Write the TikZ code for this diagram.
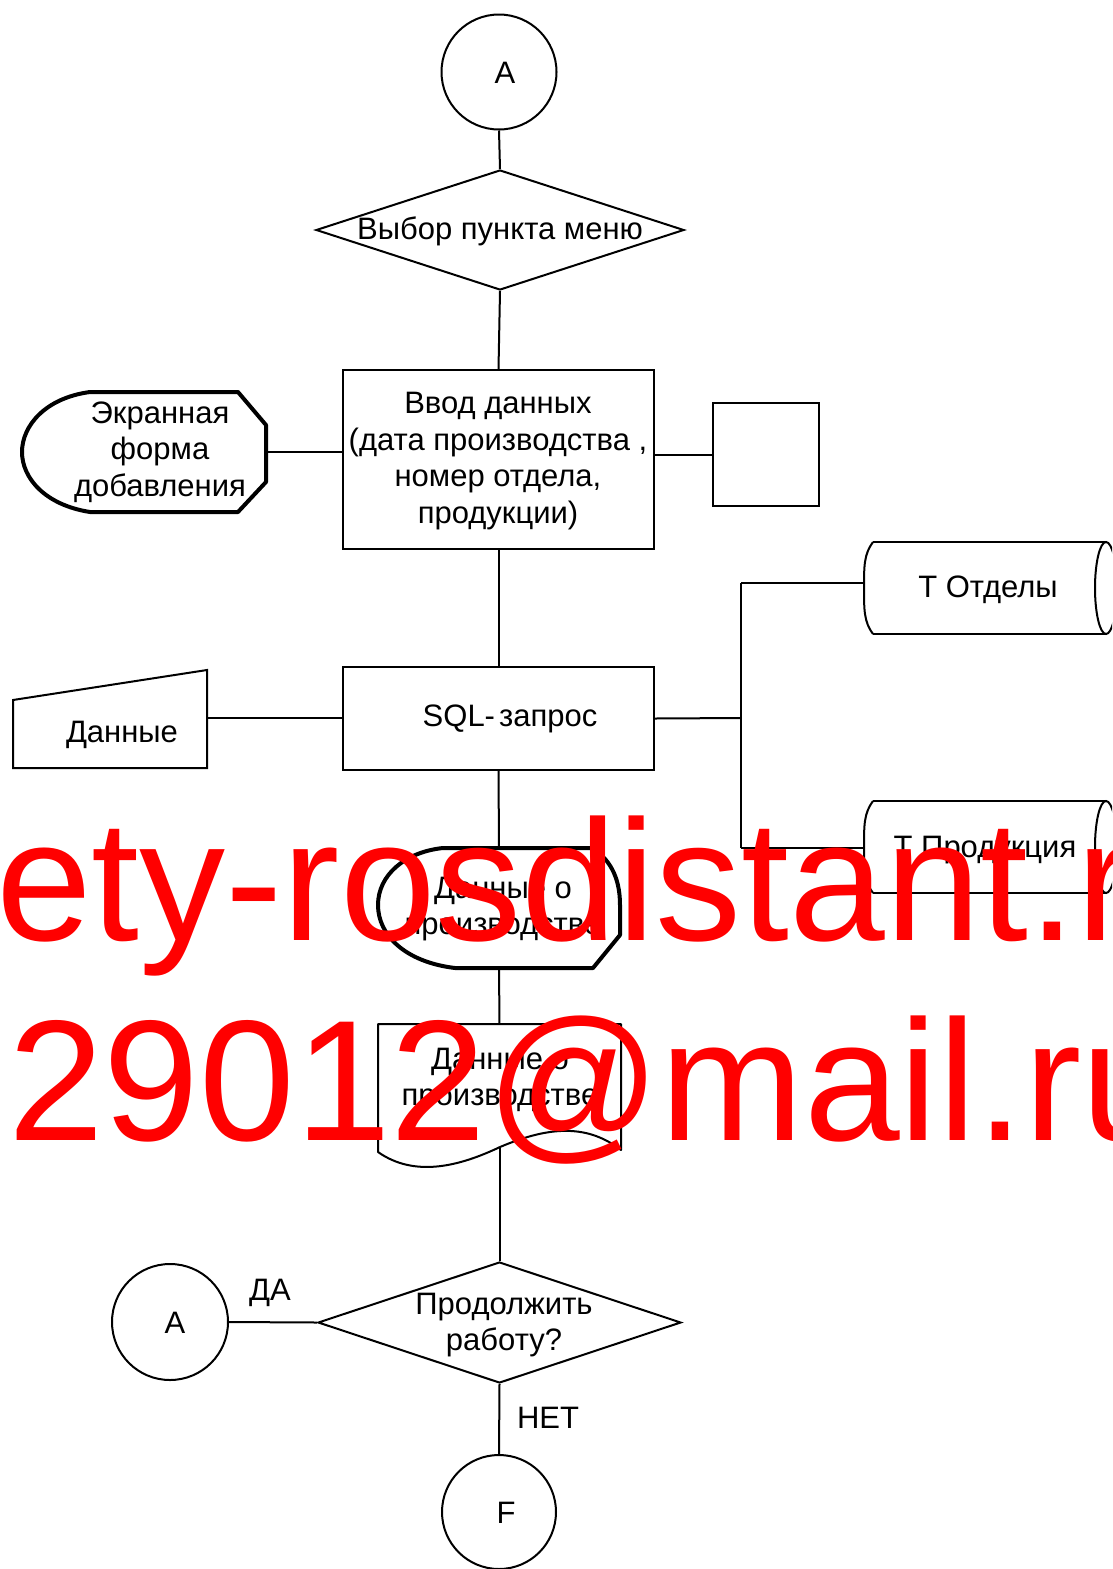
\documentclass[tikz,border=0pt]{standalone}
\usepackage{fontspec}
\setmainfont{Liberation Sans}
\usetikzlibrary{shapes.geometric}
\begin{document}
\begin{tikzpicture}[x=1pt,y=-1pt,
  every node/.style={font=\fontsize{31}{36.7}\selectfont, inner sep=0pt},
  line/.style={line width=2pt},
  shp/.style={draw, line width=2pt},
  thickshp/.style={draw, line width=4pt, line join=round},
  conn/.style={circle, draw, line width=2pt, minimum size=115pt},
  box/.style={rectangle, draw, line width=2pt, align=center},
  ghost/.style={rectangle, draw=none, minimum width=#1},
  txt/.style={align=center},
  wm/.style={text=red, font=\fontsize{172}{172}\selectfont, anchor=base west}]
\useasboundingbox (0,0) rectangle (1112,1569);
\clip (0,0) rectangle (1112,1569);
\fill[white] (0,0) rectangle (1112,1569);

% connectors (circles)
\node[conn] (circA) at (499,72) {};
\node (circAt) at (505,73) {A};
\node[conn, minimum size=116pt] (circA2) at (170,1322) {};
\node (circA2t) at (175,1323) {A};
\node[conn, minimum size=114pt] (circF) at (499,1512) {};
\node (circFt) at (506,1513) {F};

% diamonds
\node[diamond, draw, line width=2pt, minimum width=368pt, minimum height=120pt] (menu) at (500,230) {};
\node (menut) at (500,231) {Выбор пункта меню};
\node[diamond, draw, line width=2pt, minimum width=363pt, minimum height=121pt] (cont) at (499.5,1322.5) {};
\node[txt] (contt) at (504,1325) {Продолжить\\работу?};

% rectangles
\node[box, minimum width=311pt, minimum height=179pt] (input) at (498.5,459.5) {};
\node[txt] (inputt) at (498,461) {Ввод данных\\(дата производства ,\\номер отдела,\\продукции)};
\node[box, minimum width=106pt, minimum height=103pt] (empty) at (766,454.5) {};
\node[box, minimum width=311pt, minimum height=103pt] (sql) at (498.5,718.5) {};
\node (sqlt) at (510,719) {SQL-\kern4pt запрос};

% screen form (display)
\draw[thickshp] (90,392) -- (238,392) -- (266,425) -- (266,482) -- (238,512) -- (90,512)
  .. controls (45,505) and (22,478) .. (22,452) .. controls (22,426) and (45,398) .. (90,392) -- cycle;
\node[ghost=244pt, minimum height=120pt] (scr) at (144,452) {};
\node[txt] (scrt) at (160,452) {Экранная\\форма\\добавления};

% manual input
\draw[shp] (13,700) -- (207,670) -- (207,768) -- (13,768) -- cycle;
\node[ghost=194pt, minimum height=98pt] (man) at (110,718) {};
\node (mant) at (122,735) {Данные};

% stored data T Отделы
\draw[shp] (873,542) -- (1106,542);
\draw[shp] (873,634) -- (1106,634);
\draw[shp] (873,542) .. controls (864,554) and (864,566) .. (864,588) .. controls (864,610) and (864,622) .. (873,634);
\draw[shp] (1106,588) ellipse [x radius=11, y radius=46];
\node[ghost=245pt, minimum height=92pt] (otd) at (985.5,588) {};
\coordinate (otdw) at (863,583);
\node (otdt) at (988,590) {Т Отделы};

% stored data T Продукция
\draw[shp] (873,801) -- (1106,801);
\draw[shp] (873,893) -- (1106,893);
\draw[shp] (873,801) .. controls (864,813) and (864,825) .. (864,847) .. controls (864,869) and (864,881) .. (873,893);
\draw[shp] (1106,847) ellipse [x radius=11, y radius=46];
\node[ghost=245pt, minimum height=92pt] (prod) at (985.5,847) {};
\coordinate (prodw) at (863,848);
\node (prodt) at (985,850) {Т Продукция};

% display: Данные о производстве
\draw[thickshp] (443,848) -- (592,848) .. controls (608,858) and (620,875) .. (620,905)
  -- (620,935) -- (593,968) -- (455,968)
  .. controls (405,962) and (378,935) .. (378,905) .. controls (378,875) and (405,852) .. (443,848) -- cycle;
\node[ghost=242pt, minimum height=120pt] (disp) at (499,908) {};
\node[txt] (dispt) at (503,909) {Данные о\\производстве};

% document
\draw[shp, line join=round] (378,1024) -- (621,1024) -- (621,1150)
  .. controls (585,1122) and (545,1128) .. (500,1147)
  .. controls (460,1166) and (415,1178) .. (378,1152) -- cycle;
\node[ghost=243pt, minimum height=123pt] (doc) at (499.5,1085.5) {};
\node[txt] (doct) at (500,1080) {Данные о\\производстве};

% junction
\coordinate (j) at (741,718);
\coordinate (jtop) at (741,583);
\coordinate (jbot) at (741,848);

% connectors
\draw[line] (circA.south) -- (menu.north);
\draw[line] (menu.south) -- (input.north);
\draw[line] (scr.east) -- (scr.east -| input.west);
\draw[line] (input.east |- empty.west) -- (empty.west);
\draw[line] (input.south) -- (sql.north);
\draw[line] (man.east) -- (man.east -| sql.west);
\draw[line] (sql.east) -- (j);
\draw[line] (jtop) -- (jbot);
\draw[line] (jtop) -- (otdw);
\draw[line] (jbot) -- (prodw);
\draw[line] (sql.south) -- (disp.north);
\draw[line] (disp.south) -- (doc.north);
\draw[line] (doc.south) -- (cont.north);
\draw[line] (cont.west) -- (circA2.east);
\draw[line] (cont.south) -- (circF.north);

\node (da) at (270,1293) {ДА};
\node (net) at (548,1418) {НЕТ};

% watermark
\node[wm] (wm1) at (-4,940) {ety-rosdistant.ru};
\node[wm] (wm2) at (8,1140) {29012@mail.ru};
\end{tikzpicture}
\end{document}
